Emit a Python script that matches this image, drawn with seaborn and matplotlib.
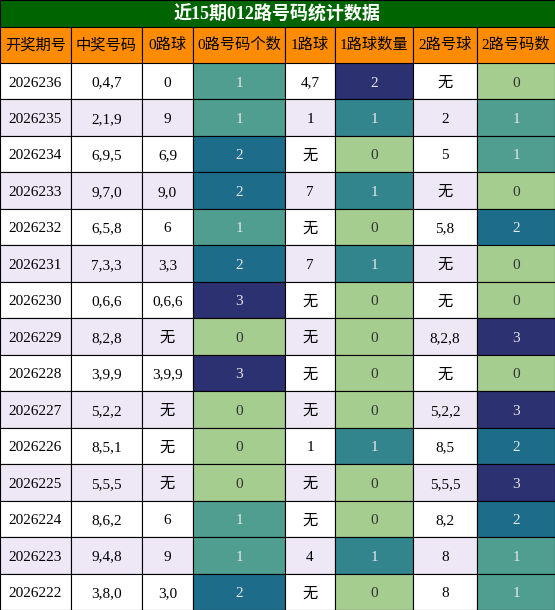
import numpy as np
import pandas as pd
import matplotlib
matplotlib.use("Agg")
import matplotlib.pyplot as plt
from matplotlib.colors import ListedColormap
from matplotlib.patches import Rectangle
import seaborn as sns

# ── Data ───────────────────────────────────────────────────────────
TITLE   = "近15期012路号码统计数据"
HEADERS = ["开奖期号", "中奖号码", "0路球", "0路号码个数", "1路球", "1路球数量", "2路号球", "2路号码数"]
ISSUES  = ["2026236", "2026235", "2026234", "2026233", "2026232", "2026231", "2026230", "2026229",
           "2026228", "2026227", "2026226", "2026225", "2026224", "2026223", "2026222"]
NUMBERS = ["0,4,7", "2,1,9", "6,9,5", "9,7,0", "6,5,8", "7,3,3", "0,6,6", "8,2,8",
           "3,9,9", "5,2,2", "8,5,1", "5,5,5", "8,6,2", "9,4,8", "3,8,0"]
ROAD0   = ["0", "9", "6,9", "9,0", "6", "3,3", "0,6,6", "无", "3,9,9", "无", "无", "无", "6", "9", "3,0"]
CNT0    = [1, 1, 2, 2, 1, 2, 3, 0, 3, 0, 0, 0, 1, 1, 2]
ROAD1   = ["4,7", "1", "无", "7", "无", "7", "无", "无", "无", "无", "1", "无", "无", "4", "无"]
CNT1    = [2, 1, 0, 1, 0, 1, 0, 0, 0, 0, 1, 0, 0, 1, 0]
ROAD2   = ["无", "2", "5", "无", "5,8", "无", "无", "8,2,8", "无", "5,2,2", "8,5", "5,5,5", "8,2", "8", "8"]
CNT2    = [0, 1, 1, 0, 2, 0, 0, 3, 0, 3, 2, 3, 2, 1, 1]

COL_W = [71, 71, 51, 92, 50, 78, 64, 78]
FONTS = ["Liberation Serif", "Noto Sans CJK SC", "DejaVu Sans"]

W, H = 555, 610
TITLE_H, HEAD_H = 27, 36
n = len(ISSUES)
edges = np.concatenate([[0], np.cumsum(COL_W)])

fig = plt.figure(figsize=(W / 100, H / 100), dpi=100)
body_h = H - TITLE_H - HEAD_H
ax = fig.add_axes([0, 0, 1, body_h / H])

# background stripes (white / lavender)
stripe = np.array([[i % 2] * 8 for i in range(n)], dtype=float)
sns.heatmap(stripe, ax=ax, cmap=ListedColormap(["#ffffff", "#ede7f6"]), cbar=False,
            vmin=0, vmax=1, linewidths=0)

crest = sns.color_palette("crest", as_cmap=True)
for col, vals in [(3, CNT0), (5, CNT1), (7, CNT2)]:
    grid = np.full((n, 8), np.nan)
    grid[:, col] = vals
    sns.heatmap(grid, ax=ax, cmap=crest, vmin=0, vmax=max(vals), cbar=False,
                mask=np.isnan(grid), linewidths=0)

# reshape columns to true pixel widths via pcolormesh x-edges
for coll in ax.collections:
    pass
ax.clear()
ax.set_xlim(0, W)
ax.set_ylim(n, 0)
ax.axis("off")
for i in range(n):
    bg = "#ffffff" if i % 2 == 0 else "#ede7f6"
    cells = [ISSUES[i], NUMBERS[i], ROAD0[i], CNT0[i], ROAD1[i], CNT1[i], ROAD2[i], CNT2[i]]
    for j, txt in enumerate(cells):
        color, tcol = bg, "black"
        if j in (3, 5, 7):
            vals = {3: CNT0, 5: CNT1, 7: CNT2}[j]
            color = crest(txt / max(vals))
            tcol = "#333333" if txt == 0 else "#e6e6e6"
        ax.add_patch(Rectangle((edges[j], i), COL_W[j], 1, facecolor=color,
                               edgecolor="black", lw=0.8))
        ax.text(edges[j] + COL_W[j] / 2, i + 0.55, str(txt), ha="center", va="center",
                fontsize=11, color=tcol, family=FONTS)

# header + title
top = fig.add_axes([0, body_h / H, 1, (TITLE_H + HEAD_H) / H])
top.set_xlim(0, W)
top.set_ylim(TITLE_H + HEAD_H, 0)
top.axis("off")
top.add_patch(Rectangle((0, 0), W, TITLE_H, facecolor="#006400", edgecolor="black", lw=0.8))
top.text(W / 2, TITLE_H / 2 + 1, TITLE, ha="center", va="center", color="white",
         fontsize=13, fontweight="bold", family=FONTS)
for j, h in enumerate(HEADERS):
    top.add_patch(Rectangle((edges[j], TITLE_H), COL_W[j], HEAD_H, facecolor="#ff8c00",
                            edgecolor="black", lw=0.8))
    top.text(edges[j] + COL_W[j] / 2, TITLE_H + HEAD_H / 2, h, ha="center", va="center",
             fontsize=11, color="black", family=FONTS)

fig.savefig("out.png", dpi=100)
